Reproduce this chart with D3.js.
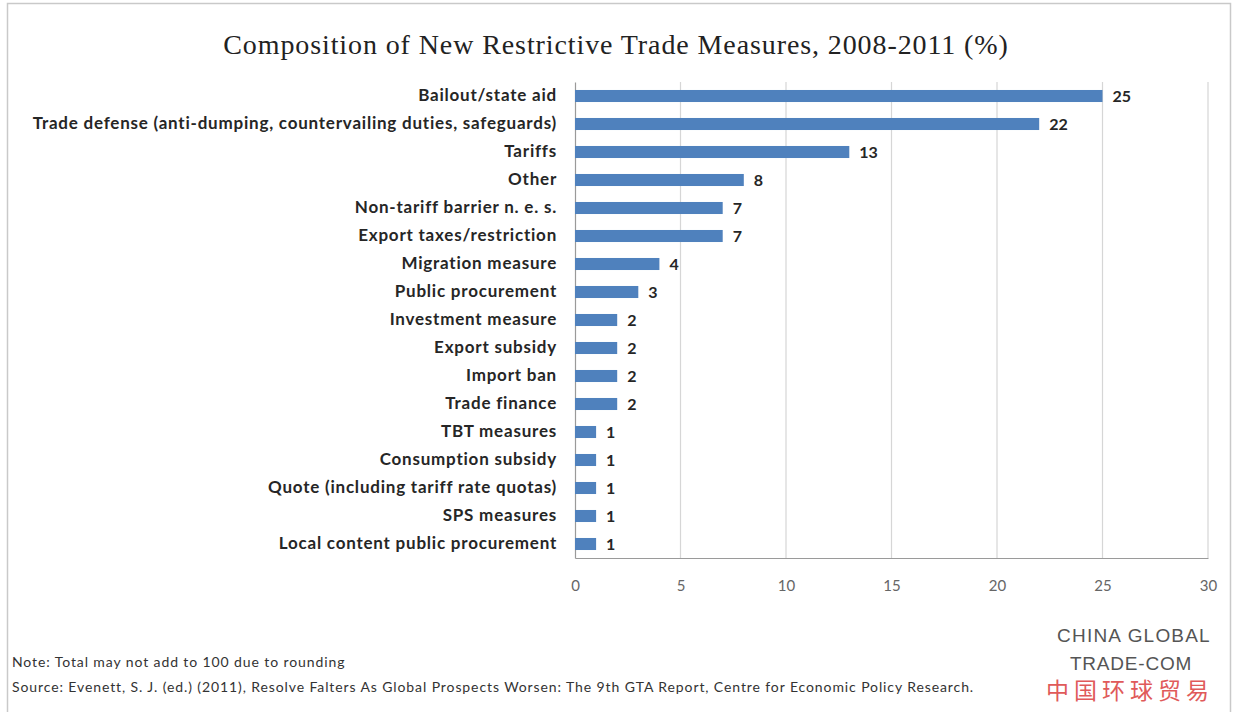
<!DOCTYPE html>
<html>
<head>
<meta charset="utf-8">
<script src="https://cdn.jsdelivr.net/npm/d3@7"></script>
<style>
  html, body { margin: 0; padding: 0; background: #fff; }
  svg { display: block; }
</style>
</head>
<body>
<svg id="chart" width="1235" height="712"></svg>
<script>
// Share of new restrictive trade measures by type, 2008-2011 (%)
const categories = [
  "Bailout/state aid",
  "Trade defense (anti-dumping, countervailing duties, safeguards)",
  "Tariffs",
  "Other",
  "Non-tariff barrier n. e. s.",
  "Export taxes/restriction",
  "Migration measure",
  "Public procurement",
  "Investment measure",
  "Export subsidy",
  "Import ban",
  "Trade finance",
  "TBT measures",
  "Consumption subsidy",
  "Quote (including tariff rate quotas)",
  "SPS measures",
  "Local content public procurement"
];
const values = [25, 22, 13, 8, 7, 7, 4, 3, 2, 2, 2, 2, 1, 1, 1, 1, 1];
const xTicks = [0, 5, 10, 15, 20, 25, 30];

const titleText = "Composition of New Restrictive Trade Measures, 2008-2011 (%)";
const noteText = "Note: Total may not add to 100 due to rounding";
const sourceText = "Source: Evenett, S. J. (ed.) (2011),  Resolve Falters As Global Prospects Worsen: The 9th GTA Report, Centre for Economic Policy Research.";

const svg = d3.select("#chart");
const plot = { left: 575, right: 1208, top: 82, bottom: 558 };
const labelFont = "Lato, 'Open Sans', sans-serif";

// outer frame
svg.append("rect")
  .attr("x", 7.5).attr("y", 3.5)
  .attr("width", 1223).attr("height", 720)
  .attr("fill", "#fff").attr("stroke", "#c9c9c9").attr("stroke-width", 1.5);

// title
svg.append("text")
  .attr("x", 616).attr("y", 54)
  .attr("text-anchor", "middle")
  .attr("font-family", "'Liberation Serif', 'DejaVu Serif', serif")
  .attr("font-size", 28)
  .attr("letter-spacing", 0.9)
  .attr("fill", "#222")
  .text(titleText);

const x = d3.scaleLinear().domain([0, 30]).range([plot.left, plot.right]);
const y = d3.scaleBand().domain(categories).range([plot.top, plot.bottom]).paddingInner(0.57).paddingOuter(0.285);

// vertical gridlines
svg.append("g")
  .selectAll("line")
  .data(xTicks.filter(d => d > 0))
  .join("line")
  .attr("x1", d => x(d)).attr("x2", d => x(d))
  .attr("y1", plot.top).attr("y2", plot.bottom)
  .attr("stroke", "#d6d6d6").attr("stroke-width", 1.2);

// x axis
const xAxis = svg.append("g")
  .attr("transform", `translate(0,${plot.bottom})`)
  .call(d3.axisBottom(x).tickValues(xTicks).tickSize(0).tickPadding(22));
xAxis.select(".domain").attr("stroke", "#9a9a9a").attr("stroke-width", 1.2);
xAxis.selectAll("text")
  .attr("font-family", labelFont)
  .attr("font-size", 15)
  .attr("fill", "#666");

// y axis (category labels)
const yAxis = svg.append("g")
  .attr("transform", `translate(${plot.left},0)`)
  .call(d3.axisLeft(y).tickSize(0).tickPadding(18));
yAxis.select(".domain").attr("stroke", "#9a9a9a").attr("stroke-width", 1.2);
yAxis.selectAll("text")
  .attr("font-family", labelFont)
  .attr("font-size", 17)
  .attr("font-weight", "bold")
  .attr("letter-spacing", 0.78)
  .attr("fill", "#262626");

// bars
const data = categories.map((c, i) => ({ c, v: values[i] }));
svg.append("g")
  .selectAll("rect")
  .data(data)
  .join("rect")
  .attr("x", x(0))
  .attr("y", d => y(d.c))
  .attr("width", d => x(d.v) - x(0))
  .attr("height", y.bandwidth())
  .attr("fill", "#4f81bd");

// value labels
svg.append("g")
  .selectAll("text")
  .data(data)
  .join("text")
  .attr("x", d => x(d.v) + 10)
  .attr("y", d => y(d.c) + y.bandwidth() / 2)
  .attr("dy", "0.35em")
  .attr("font-family", labelFont)
  .attr("font-size", 16)
  .attr("font-weight", "bold")
  .attr("fill", "#262626")
  .text(d => d.v);

// notes
svg.append("text")
  .attr("x", 12).attr("y", 667)
  .attr("font-family", labelFont).attr("font-size", 14).attr("letter-spacing", 0.9).attr("fill", "#333")
  .text(noteText);
svg.append("text")
  .attr("x", 12).attr("y", 692)
  .attr("font-family", labelFont).attr("font-size", 14).attr("letter-spacing", 0.9).attr("fill", "#333")
  .text(sourceText);

// logo
const logo = svg.append("g").attr("text-anchor", "middle");
logo.append("text")
  .attr("x", 1134).attr("y", 642)
  .attr("font-family", "'Liberation Sans', sans-serif").attr("font-size", 19)
  .attr("letter-spacing", 1.2)
  .attr("fill", "#555").text("CHINA GLOBAL");
logo.append("text")
  .attr("x", 1131).attr("y", 670)
  .attr("font-family", "'Liberation Sans', sans-serif").attr("font-size", 19)
  .attr("letter-spacing", 0.8)
  .attr("fill", "#555").text("TRADE-COM");
logo.append("text")
  .attr("x", 1130).attr("y", 699)
  .attr("font-family", "'Noto Sans CJK SC', sans-serif").attr("font-size", 23)
  .attr("letter-spacing", 5)
  .attr("fill", "#e05a5a").text("中国环球贸易");
</script>
</body>
</html>
